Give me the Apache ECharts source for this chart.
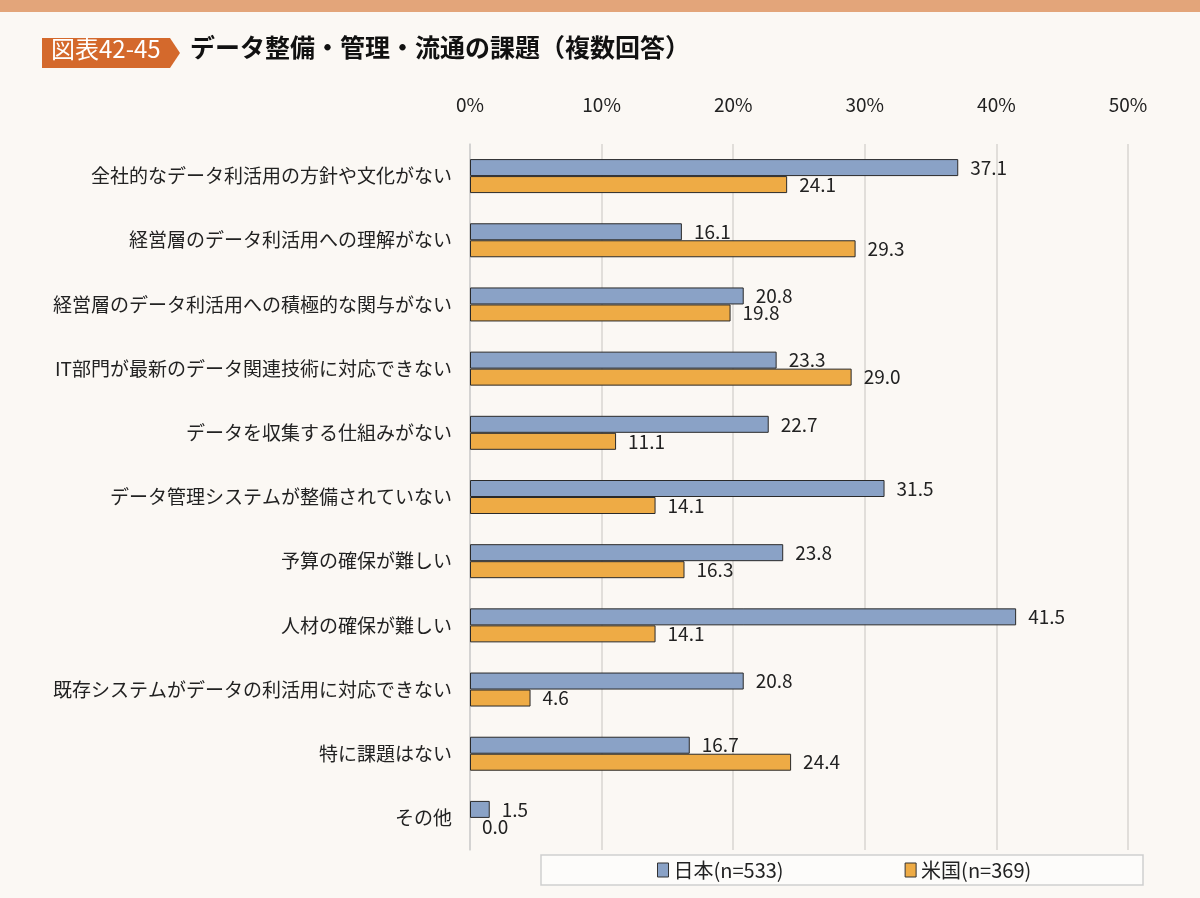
<!DOCTYPE html>
<html><head><meta charset="utf-8">
<script src="https://cdn.jsdelivr.net/npm/echarts@6/dist/echarts.min.js"></script>
<style>html,body{margin:0;padding:0;background:#fbf8f4}#c{width:1200px;height:898px}</style>
</head><body><div id="c"></div>
<script>
const categories = [
  '全社的なデータ利活用の方針や文化がない',
  '経営層のデータ利活用への理解がない',
  '経営層のデータ利活用への積極的な関与がない',
  'IT部門が最新のデータ関連技術に対応できない',
  'データを収集する仕組みがない',
  'データ管理システムが整備されていない',
  '予算の確保が難しい',
  '人材の確保が難しい',
  '既存システムがデータの利活用に対応できない',
  '特に課題はない',
  'その他'
];
const japan = [37.1, 16.1, 20.8, 23.3, 22.7, 31.5, 23.8, 41.5, 20.8, 16.7, 1.5];
const usa = [24.1, 29.3, 19.8, 29.0, 11.1, 14.1, 16.3, 14.1, 4.6, 24.4, 0.0];
const seriesNames = ['日本(n=533)', '米国(n=369)'];
const titleText = 'データ整備・管理・流通の課題（複数回答）';
const badgeText = '図表42-45';

const font = '"Noto Sans CJK JP", "Noto Sans", sans-serif';
const chart = echarts.init(document.getElementById('c'));
const lbl = {show: true, position: 'right', distance: 12, color: '#222', fontSize: 19, fontFamily: font,
  formatter: p => p.value.toFixed(1)};
const toData = arr => arr.map(v => v === 0 ? {value: v, itemStyle: {borderWidth: 0}} : v);
chart.setOption({
  backgroundColor: '#fbf8f4',
  animation: false,
  textStyle: {fontFamily: font},
  graphic: [
    {type: 'rect', shape: {x: 0, y: 0, width: 1200, height: 12}, style: {fill: '#e3a57a'}},
    {type: 'polygon', shape: {points: [[42, 38], [170, 38], [180, 53], [170, 68], [42, 68]]}, style: {fill: '#d4692c'}},
    {type: 'text', left: 51, top: 37, style: {text: badgeText, fill: '#fff', font: '24px ' + font}},
    {type: 'text', left: 190, top: 35, style: {text: titleText, fill: '#111', font: 'bold 25px ' + font}},
    {type: 'rect', shape: {x: 541, y: 855, width: 602, height: 30}, style: {fill: '#fdfcfa', stroke: '#cfcfcf', lineWidth: 1.5}}
  ],
  legend: {
    data: seriesNames,
    bottom: 13, left: 652,
    icon: 'rect',
    itemWidth: 11, itemHeight: 14, itemGap: 121,
    textStyle: {fontSize: 20, color: '#222', fontFamily: font},
    itemStyle: {borderColor: '#333', borderWidth: 1}
  },
  grid: {left: 470, right: 72, top: 144, bottom: 48, containLabel: false},
  xAxis: {
    type: 'value', position: 'top', min: 0, max: 50, interval: 10,
    axisLabel: {formatter: '{value}%', fontSize: 19, color: '#222', margin: 30},
    splitLine: {lineStyle: {color: '#d9d6d2', width: 1.5}},
    axisLine: {show: false}, axisTick: {show: false}
  },
  yAxis: {
    type: 'category', data: categories, inverse: true,
    axisLabel: {fontSize: 19, color: '#222', margin: 18},
    axisLine: {lineStyle: {color: '#cfcfcf', width: 1.5}},
    axisTick: {show: false}
  },
  series: [
    {name: seriesNames[0], type: 'bar', data: toData(japan), barWidth: 17, barGap: '0%',
     itemStyle: {color: '#8aa2c6', borderColor: '#2a2a2a', borderWidth: 1}, label: lbl},
    {name: seriesNames[1], type: 'bar', data: toData(usa), barWidth: 17, barGap: '0%',
     itemStyle: {color: '#eeab45', borderColor: '#2a2a2a', borderWidth: 1}, label: lbl}
  ]
});
</script></body></html>
